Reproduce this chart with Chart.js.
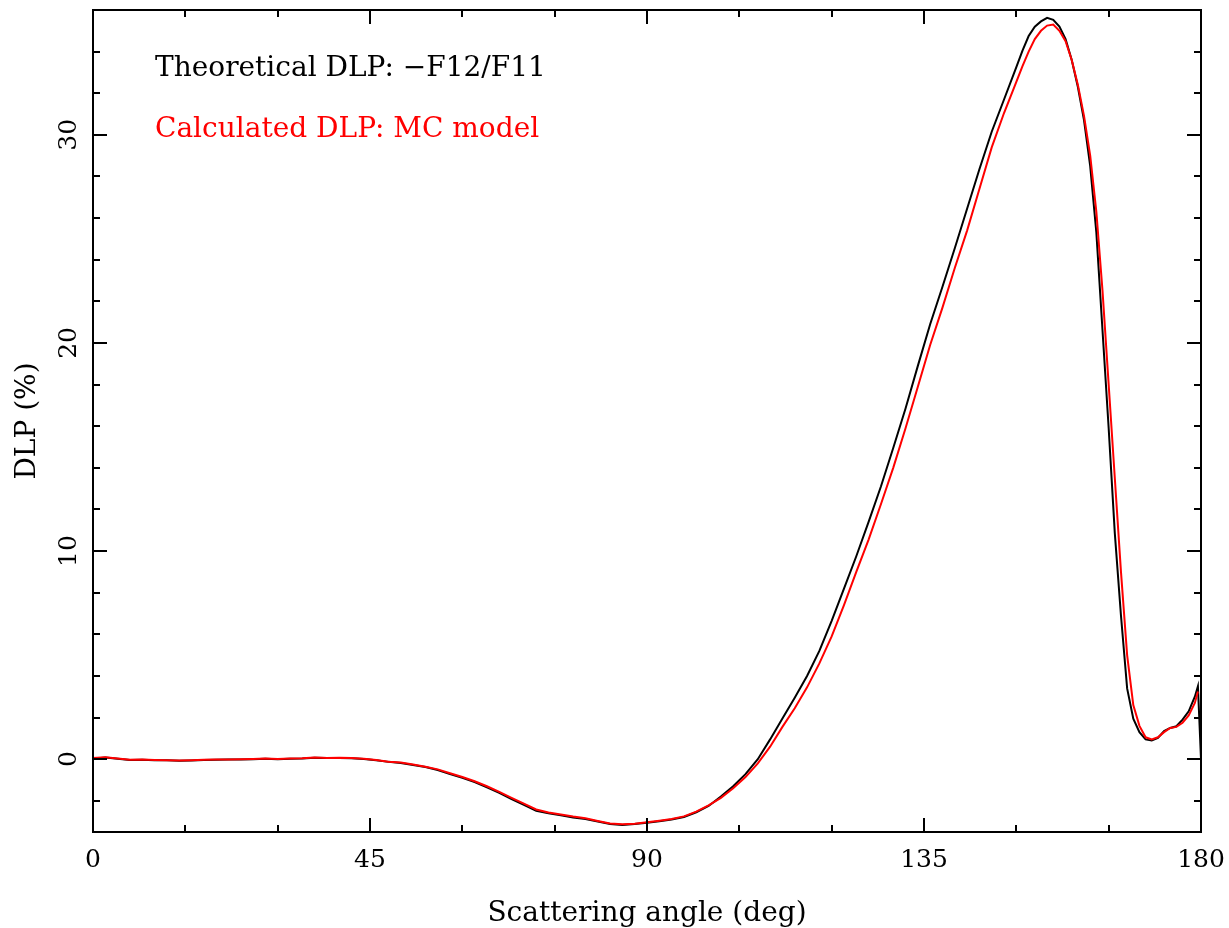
<!DOCTYPE html>
<html>
<head>
<meta charset="utf-8">
<script src="https://cdn.jsdelivr.net/npm/chart.js@4/dist/chart.umd.min.js"></script>
<style>
  html, body { margin: 0; padding: 0; background: #ffffff; }
  #wrap { width: 1229px; height: 928px; position: relative; }
</style>
</head>
<body>
<div id="wrap"><canvas id="c" width="1229" height="928"></canvas></div>
<script>
// ---- data ----
const angles = [
  0, 2, 4, 6, 8, 10, 12, 14, 16, 18, 20, 22, 24, 26, 28, 30, 32, 34, 36, 38,
  40, 42, 44, 46, 48, 50, 52, 54, 56, 58, 60, 62, 64, 66, 68, 70, 72, 74, 76, 78,
  80, 82, 84, 86, 88, 90, 92, 94, 96, 98, 100, 102, 104, 106, 108, 110, 112, 114, 116, 118,
  120, 122, 124, 126, 128, 130, 132, 134, 136, 138, 140, 142, 144, 146, 148, 150,
  151, 152, 153, 154, 155, 156, 157, 158, 159, 160, 161, 162, 163, 164, 165, 166, 167, 168, 169, 170,
  171, 172, 173, 174, 175, 176, 177, 178, 179, 179.5, 180
];
const theoretical = [
  0.02, 0.08, 0.02, -0.04, -0.03, -0.05, -0.05, -0.08, -0.06, -0.04, -0.03, -0.02, -0.02, 0.00, 0.02, 0.00, 0.02, 0.03, 0.07, 0.05,
  0.06, 0.04, 0.01, -0.05, -0.13, -0.18, -0.28, -0.38, -0.52, -0.72, -0.90, -1.10, -1.35, -1.62, -1.92, -2.20, -2.48, -2.60, -2.70, -2.80,
  -2.88, -3.00, -3.12, -3.16, -3.12, -3.05, -2.98, -2.90, -2.78, -2.55, -2.25, -1.80, -1.30, -0.72, 0.00, 0.95, 1.95, 2.95, 4.00, 5.20,
  6.65, 8.20, 9.75, 11.40, 13.10, 14.95, 16.85, 18.90, 20.90, 22.70, 24.55, 26.45, 28.35, 30.15, 31.70, 33.25,
  34.05, 34.75, 35.20, 35.45, 35.62, 35.53, 35.20, 34.60, 33.60, 32.30, 30.70, 28.50, 25.30, 20.60, 15.90, 10.85, 6.90, 3.40, 1.95, 1.30,
  0.95, 0.90, 1.02, 1.35, 1.50, 1.58, 1.90, 2.30, 3.00, 3.50, 0.00
];
const calculated = [
  0.05, 0.09, 0.03, -0.03, -0.02, -0.04, -0.05, -0.07, -0.05, -0.03, -0.02, -0.02, -0.01, 0.01, 0.03, 0.01, 0.03, 0.04, 0.08, 0.06,
  0.07, 0.05, 0.02, -0.04, -0.12, -0.16, -0.26, -0.36, -0.49, -0.68, -0.86, -1.06, -1.30, -1.57, -1.86, -2.14, -2.42, -2.56, -2.66, -2.76,
  -2.84, -2.97, -3.09, -3.13, -3.10, -3.03, -2.96, -2.88, -2.75, -2.52, -2.22, -1.86, -1.40, -0.86, -0.20, 0.60, 1.55, 2.45, 3.45, 4.60,
  5.90, 7.40, 9.00, 10.55, 12.25, 14.00, 15.90, 17.90, 19.90, 21.70, 23.60, 25.40, 27.40, 29.40, 31.05, 32.55,
  33.30, 34.00, 34.60, 35.00, 35.25, 35.30, 35.00, 34.50, 33.60, 32.40, 30.90, 29.00, 26.30, 22.50, 18.00, 13.50, 9.00, 5.00, 2.60, 1.60,
  1.05, 0.95, 1.05, 1.30, 1.50, 1.55, 1.75, 2.10, 2.70, 3.25, null
];
const xMajorTicks = [0, 45, 90, 135, 180];
const xMinorTicks = [15, 30, 60, 75, 105, 120, 150, 165];
const yMajorTicks = [0, 10, 20, 30];
const yMinorTicks = [-2, 2, 4, 6, 8, 12, 14, 16, 18, 22, 24, 26, 28, 32, 34];
const xTitle = 'Scattering angle (deg)';
const yTitle = 'DLP (%)';
const theoreticalLabel = 'Theoretical DLP: \u2212F12/F11';
const calculatedLabel = 'Calculated DLP: MC model';

const FONT = '"DejaVu Serif", "Liberation Serif", serif';

const framePlugin = {
  id: 'pgframe',
  afterDraw(chart) {
    const ctx = chart.ctx;
    const a = chart.chartArea;
    const xs = chart.scales.x, ys = chart.scales.y;
    ctx.save();
    ctx.strokeStyle = '#000';
    ctx.lineWidth = 2;
    ctx.lineCap = 'butt';
    ctx.strokeRect(a.left, a.top, a.right - a.left, a.bottom - a.top);
    const MAJ = 14, MIN = 7;
    ctx.beginPath();
    const xt = (v, len) => {
      const p = Math.round(xs.getPixelForValue(v));
      ctx.moveTo(p, a.bottom); ctx.lineTo(p, a.bottom - len);
      ctx.moveTo(p, a.top); ctx.lineTo(p, a.top + len);
    };
    const yt = (v, len) => {
      const p = Math.round(ys.getPixelForValue(v));
      ctx.moveTo(a.left, p); ctx.lineTo(a.left + len, p);
      ctx.moveTo(a.right, p); ctx.lineTo(a.right - len, p);
    };
    xMajorTicks.forEach(v => xt(v, MAJ));
    xMinorTicks.forEach(v => xt(v, MIN));
    yMajorTicks.forEach(v => yt(v, MAJ));
    yMinorTicks.forEach(v => yt(v, MIN));
    ctx.stroke();

    // tick labels
    ctx.fillStyle = '#000';
    ctx.font = '25px ' + FONT;
    ctx.textAlign = 'center';
    ctx.textBaseline = 'alphabetic';
    xMajorTicks.forEach(v => {
      ctx.fillText(String(v), xs.getPixelForValue(v), 867);
    });
    yMajorTicks.forEach(v => {
      const p = ys.getPixelForValue(v);
      ctx.save();
      ctx.translate(76, p);
      ctx.rotate(-Math.PI / 2);
      ctx.fillText(String(v), 0, 0);
      ctx.restore();
    });

    // axis titles
    ctx.font = '28px ' + FONT;
    ctx.fillText(xTitle, (a.left + a.right) / 2, 921);
    ctx.save();
    ctx.translate(35, (a.top + a.bottom) / 2);
    ctx.rotate(-Math.PI / 2);
    ctx.fillText(yTitle, 0, 0);
    ctx.restore();

    // in-plot labels
    ctx.textAlign = 'left';
    ctx.fillStyle = '#000';
    ctx.fillText(theoreticalLabel, 155, 76);
    ctx.fillStyle = '#ff0000';
    ctx.fillText(calculatedLabel, 155, 137);
    ctx.restore();
  }
};

const toPts = (ys) => angles.map((a, i) => ({ x: a, y: ys[i] }));

new Chart(document.getElementById('c'), {
  type: 'line',
  data: {
    datasets: [
      {
        label: calculatedLabel,
        data: toPts(calculated),
        borderColor: '#ff0000',
        borderWidth: 2,
        pointRadius: 0,
        tension: 0,
        fill: false
      },
      {
        label: theoreticalLabel,
        data: toPts(theoretical),
        borderColor: '#000000',
        borderWidth: 2,
        pointRadius: 0,
        tension: 0,
        fill: false
      }
    ]
  },
  options: {
    responsive: false,
    animation: false,
    layout: { padding: { left: 93, right: 28, top: 10, bottom: 96 } },
    plugins: { legend: { display: false }, tooltip: { enabled: false } },
    scales: {
      x: { type: 'linear', min: 0, max: 180, display: false },
      y: { type: 'linear', min: -3.5, max: 36, display: false }
    }
  },
  plugins: [framePlugin]
});
</script>
</body>
</html>
